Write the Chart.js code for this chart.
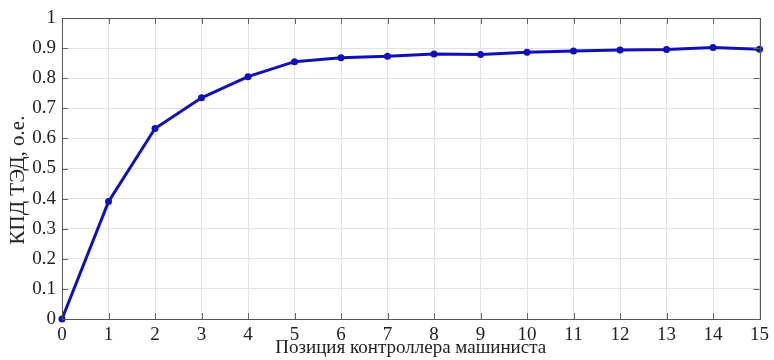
<!DOCTYPE html>
<html lang="ru">
<head>
  <meta charset="UTF-8">
  <title>КПД ТЭД</title>
  <script src="https://cdn.jsdelivr.net/npm/chart.js"></script>
  <style>
    html, body { margin: 0; padding: 0; background: #fff; }
    #wrap { width: 774px; height: 360px; }
  </style>
</head>
<body>
  <div id="wrap"><canvas id="effChart" width="774" height="360"></canvas></div>

  <script>
    // Data
    const positions = [0, 1, 2, 3, 4, 5, 6, 7, 8, 9, 10, 11, 12, 13, 14, 15];
    const efficiency = [0, 0.39, 0.633, 0.735, 0.805, 0.855, 0.868, 0.873, 0.880, 0.879, 0.886, 0.890, 0.894, 0.895, 0.902, 0.896];
    const yTickLabels = ['0', '0.1', '0.2', '0.3', '0.4', '0.5', '0.6', '0.7', '0.8', '0.9', '1'];
    const xTickLabels = ['0', '1', '2', '3', '4', '5', '6', '7', '8', '9', '10', '11', '12', '13', '14', '15'];
    const yTitle = 'КПД ТЭД, о.е.';
    const xTitle = 'Позиция контроллера машиниста';

    const lineColor = '#1010b8';
    const serif = '"Liberation Serif", "Times New Roman", serif';

    // inner tick marks, box and the y title (sits a bit below center in the original)
    const boxTicks = {
      id: 'boxTicks',
      afterDraw(chart) {
        const { ctx, chartArea: a, scales } = chart;
        const len = 6;
        ctx.save();
        ctx.strokeStyle = '#666';
        ctx.lineWidth = 1;
        ctx.beginPath();
        scales.x.ticks.forEach(t => {
          const px = Math.round(scales.x.getPixelForValue(t.value)) + 0.5;
          ctx.moveTo(px, a.bottom); ctx.lineTo(px, a.bottom - len);
          ctx.moveTo(px, a.top); ctx.lineTo(px, a.top + len);
        });
        scales.y.ticks.forEach(t => {
          const py = Math.round(scales.y.getPixelForValue(t.value)) + 0.5;
          ctx.moveTo(a.left, py); ctx.lineTo(a.left + len, py);
          ctx.moveTo(a.right, py); ctx.lineTo(a.right - len, py);
        });
        ctx.stroke();
        ctx.strokeStyle = '#555';
        ctx.strokeRect(Math.round(a.left) + 0.5, Math.round(a.top) + 0.5,
                       Math.round(a.right - a.left), Math.round(a.bottom - a.top));

        ctx.translate(18, 180);
        ctx.rotate(-Math.PI / 2);
        ctx.fillStyle = '#222';
        ctx.font = '21px ' + serif;
        ctx.textAlign = 'center';
        ctx.textBaseline = 'middle';
        ctx.fillText(yTitle, 0, 0);
        ctx.restore();
      }
    };

    const ctx = document.getElementById('effChart').getContext('2d');
    new Chart(ctx, {
      type: 'line',
      data: {
        datasets: [{
          data: positions.map((p, i) => ({ x: p, y: efficiency[i] })),
          borderColor: lineColor,
          backgroundColor: lineColor,
          borderWidth: 3,
          pointRadius: 3.5,
          pointBorderWidth: 0,
          tension: 0,
          clip: false
        }]
      },
      options: {
        responsive: false,
        animation: false,
        layout: { padding: { top: 18, right: 10, left: 0, bottom: 0 } },
        plugins: {
          legend: { display: false },
          tooltip: { enabled: false }
        },
        scales: {
          x: {
            type: 'linear',
            min: 0,
            max: 15,
            afterFit: s => { s.height = 41; },
            ticks: {
              stepSize: 1,
              padding: 5,
              color: '#222',
              font: { family: serif, size: 19 },
              callback: (v, i) => xTickLabels[i]
            },
            grid: { color: '#e2e2e2', lineWidth: 1, drawTicks: false },
            border: { display: false },
            title: {
              display: true,
              text: xTitle,
              color: '#222',
              font: { family: serif, size: 19 },
              padding: { top: 0, bottom: 1 }
            }
          },
          y: {
            min: 0,
            max: 1,
            afterFit: s => { s.width = 62; },
            ticks: {
              stepSize: 0.1,
              padding: 6,
              color: '#222',
              font: { family: serif, size: 19 },
              callback: (v, i) => yTickLabels[i]
            },
            grid: { color: '#e2e2e2', lineWidth: 1, drawTicks: false },
            border: { display: false }
          }
        }
      },
      plugins: [boxTicks]
    });
  </script>
</body>
</html>
